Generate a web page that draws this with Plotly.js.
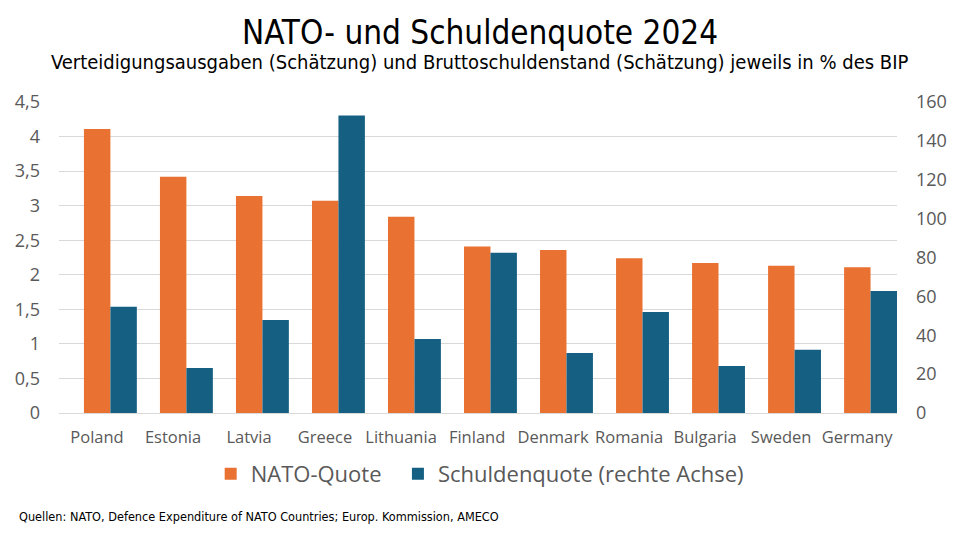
<!DOCTYPE html>
<html>
<head>
<meta charset="utf-8">
<script src="https://cdn.plot.ly/plotly-3.0.1.min.js"></script>
<style>
  html, body { margin: 0; padding: 0; background: #fff; }
  #chart { width: 960px; height: 540px; }
</style>
</head>
<body>
<div id="chart"></div>
<script>
const countries = ["Poland", "Estonia", "Latvia", "Greece", "Lithuania", "Finland",
                   "Denmark", "Romania", "Bulgaria", "Sweden", "Germany"];
const natoQuote = [4.11, 3.42, 3.14, 3.07, 2.84, 2.41, 2.36, 2.24, 2.17, 2.13, 2.11];
const debtQuote = [54.6, 23.2, 47.9, 153.1, 38.1, 82.4, 30.9, 52.0, 24.2, 32.5, 62.8];
const leftTicks = [0, 0.5, 1, 1.5, 2, 2.5, 3, 3.5, 4, 4.5];
const rightTicks = [0, 20, 40, 60, 80, 100, 120, 140, 160];

const ORANGE = "#E97132";
const BLUE = "#156082";
const GREY = "#595959";
const NARROW = "'Liberation Sans Narrow', 'DejaVu Sans Condensed', sans-serif";
const SANS = "'Open Sans', 'Noto Sans', sans-serif";

const nato = {
    x: countries,
    y: natoQuote,
    type: "bar",
    // trailing nbsp widens the gap to the next legend entry
    name: "NATO-Quote\u00a0\u00a0",
    marker: { color: ORANGE },
    width: 0.348,
    offset: -0.172,
    yaxis: "y",
    hoverinfo: "skip"
};

const debt = {
    x: countries,
    y: debtQuote,
    type: "bar",
    name: "Schuldenquote (rechte Achse)",
    marker: { color: BLUE },
    width: 0.348,
    offset: 0.176,
    yaxis: "y2",
    hoverinfo: "skip"
};

const layout = {
    width: 960,
    height: 540,
    margin: { l: 59, r: 63, t: 102, b: 127 },
    paper_bgcolor: "#fff",
    plot_bgcolor: "#fff",
    separators: ",.",
    barmode: "overlay",
    font: { family: SANS, color: GREY },
    title: {
        text: "NATO- und Schuldenquote 2024",
        font: { family: NARROW, size: 33, color: "#000" },
        x: 0.5, xref: "container",
        y: 1 - 32 / 540, yref: "container", yanchor: "middle"
    },
    xaxis: {
        type: "category",
        tickfont: { size: 16.5, color: GREY },
        ticks: "",
        ticklabelstandoff: 9,
        showgrid: false,
        showline: true,
        linecolor: "#d9d9d9",
        linewidth: 1,
        zeroline: false
    },
    yaxis: {
        range: [0, 4.5],
        tickvals: leftTicks,
        tickformat: ".1~f",
        tickfont: { size: 18, color: GREY },
        ticklabelstandoff: 18,
        gridcolor: "#d9d9d9",
        gridwidth: 1,
        zeroline: false,
        showline: false
    },
    yaxis2: {
        overlaying: "y",
        side: "right",
        range: [0, 160],
        tickvals: rightTicks,
        tickfont: { size: 18, color: GREY },
        ticklabelstandoff: 18,
        showgrid: false,
        zeroline: false,
        showline: false
    },
    showlegend: true,
    legend: {
        orientation: "h",
        x: 0.502, xanchor: "center",
        y: -0.196, yanchor: "middle",
        font: { size: 22, color: GREY },
        itemsizing: "constant",
        traceorder: "normal"
    },
    annotations: [
        {
            text: "Verteidigungsausgaben (Schätzung) und Bruttoschuldenstand (Schätzung) jeweils in % des BIP",
            xref: "paper", yref: "paper",
            x: 0.502, y: (413 - 62) / 311,
            xanchor: "center", yanchor: "middle",
            showarrow: false,
            font: { family: NARROW, size: 20, color: "#000" }
        },
        {
            text: "Quellen: NATO, Defence Expenditure of NATO Countries; Europ. Kommission, AMECO",
            xref: "paper", yref: "paper",
            x: (17 - 59) / 838, y: (413 - 516) / 311,
            xanchor: "left", yanchor: "middle",
            showarrow: false,
            font: { family: NARROW, size: 12.6, color: "#000" }
        }
    ]
};

Plotly.newPlot("chart", [nato, debt], layout, { displayModeBar: false, staticPlot: true });
</script>
</body>
</html>
